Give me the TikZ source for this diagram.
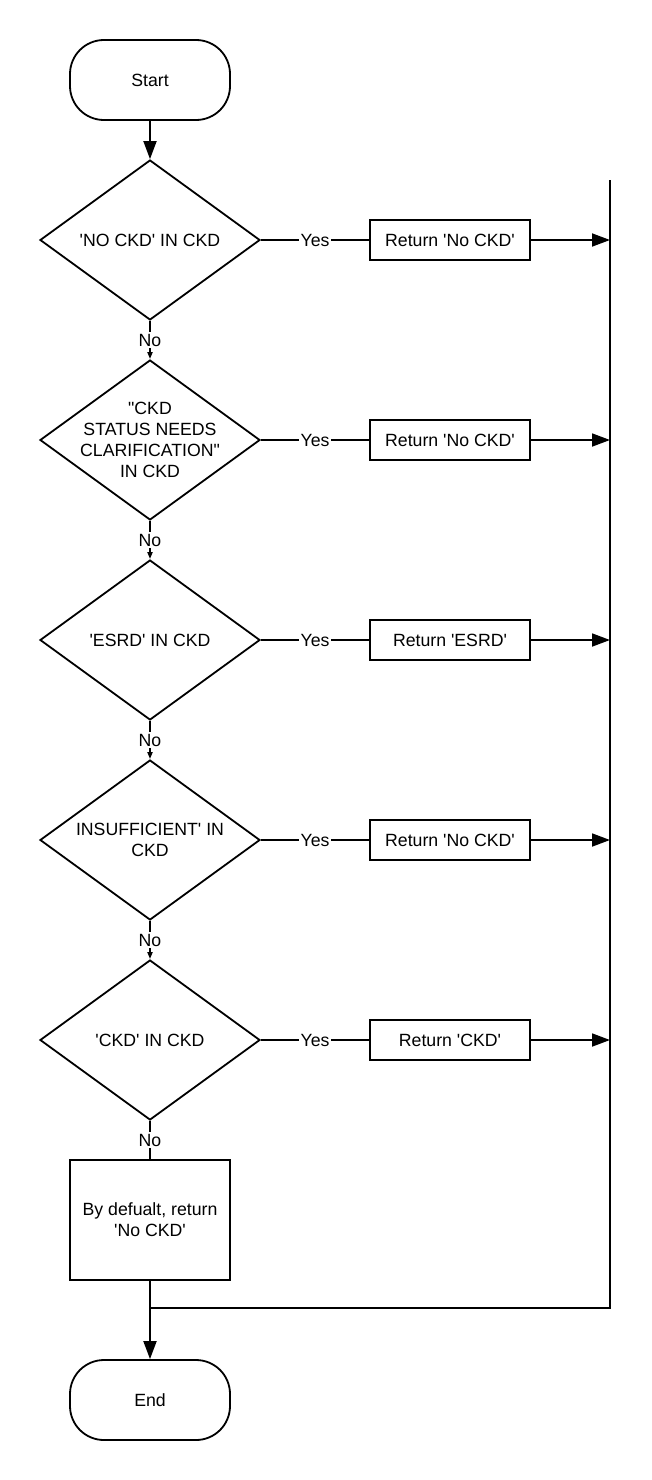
\documentclass[tikz,border=0pt]{standalone}
\usepackage{fontspec}
\setmainfont{Liberation Sans}
\usetikzlibrary{arrows.meta,shapes.geometric}
\newcommand{\sqt}{\textquotesingle}
\newcommand{\dqt}{\textquotedbl}

\begin{document}
\begin{tikzpicture}[x=1pt, y=-1pt, line width=1.8pt,
    font=\fontsize{17.7}{21}\selectfont,
    terminal/.style={draw, rectangle, rounded corners=34pt, minimum width=160pt, minimum height=80pt, inner sep=0pt},
    decision/.style={draw, diamond, aspect=1.375, minimum width=220pt, minimum height=160pt, inner sep=-12pt, align=center},
    process/.style={draw, rectangle, minimum width=160pt, minimum height=40pt, inner sep=0pt, align=center},
    lbl/.style={fill=white, inner sep=1.5pt},
    flow/.style={-{Triangle[length=18pt,width=13pt]}},
    nflow/.style={-{Triangle[length=7pt,width=5pt]}}]
    \useasboundingbox (0,0) rectangle (651,1480);

    % Start / End
    \node[terminal] (start) at (150,80) {Start};
    \node[terminal] (finish) at (150,1400) {End};

    % Decisions
    \node[decision] (d1) at (150,240) {\sqt NO CKD\sqt{} IN CKD};
    \node[decision] (d2) at (150,440) {\dqt CKD\\STATUS NEEDS\\CLARIFICATION\dqt\\IN CKD};
    \node[decision] (d3) at (150,640) {\sqt ESRD\sqt{} IN CKD};
    \node[decision] (d4) at (150,840) {INSUFFICIENT\sqt{} IN\\CKD};
    \node[decision] (d5) at (150,1040) {\sqt CKD\sqt{} IN CKD};

    % Returns
    \node[process] (r1) at (450,240) {Return \sqt No CKD\sqt};
    \node[process] (r2) at (450,440) {Return \sqt No CKD\sqt};
    \node[process] (r3) at (450,640) {Return \sqt ESRD\sqt};
    \node[process] (r4) at (450,840) {Return \sqt No CKD\sqt};
    \node[process] (r5) at (450,1040) {Return \sqt CKD\sqt};

    % Default
    \node[process, minimum height=120pt] (deflt) at (150,1220) {By defualt, return\\\sqt No CKD\sqt};

    % Collector line
    \coordinate (bustop) at (610,180);
    \coordinate (busbot) at (610,1308);
    \draw (bustop) -- (busbot) -- (busbot -| deflt.south);

    % Main column
    \draw[flow] (start) -- (d1);
    \draw[nflow] (d1) -- node[lbl] {No} (d2);
    \draw[nflow] (d2) -- node[lbl] {No} (d3);
    \draw[nflow] (d3) -- node[lbl] {No} (d4);
    \draw[nflow] (d4) -- node[lbl] {No} (d5);
    \draw (d5) -- node[lbl] {No} (deflt);
    \draw[flow] (deflt) -- (finish);

    % Yes branches
    \draw (d1) -- node[lbl] {Yes} (r1);
    \draw (d2) -- node[lbl] {Yes} (r2);
    \draw (d3) -- node[lbl] {Yes} (r3);
    \draw (d4) -- node[lbl] {Yes} (r4);
    \draw (d5) -- node[lbl] {Yes} (r5);
    \draw[flow] (r1) -- (r1 -| bustop);
    \draw[flow] (r2) -- (r2 -| bustop);
    \draw[flow] (r3) -- (r3 -| bustop);
    \draw[flow] (r4) -- (r4 -| bustop);
    \draw[flow] (r5) -- (r5 -| bustop);
\end{tikzpicture}
\end{document}
